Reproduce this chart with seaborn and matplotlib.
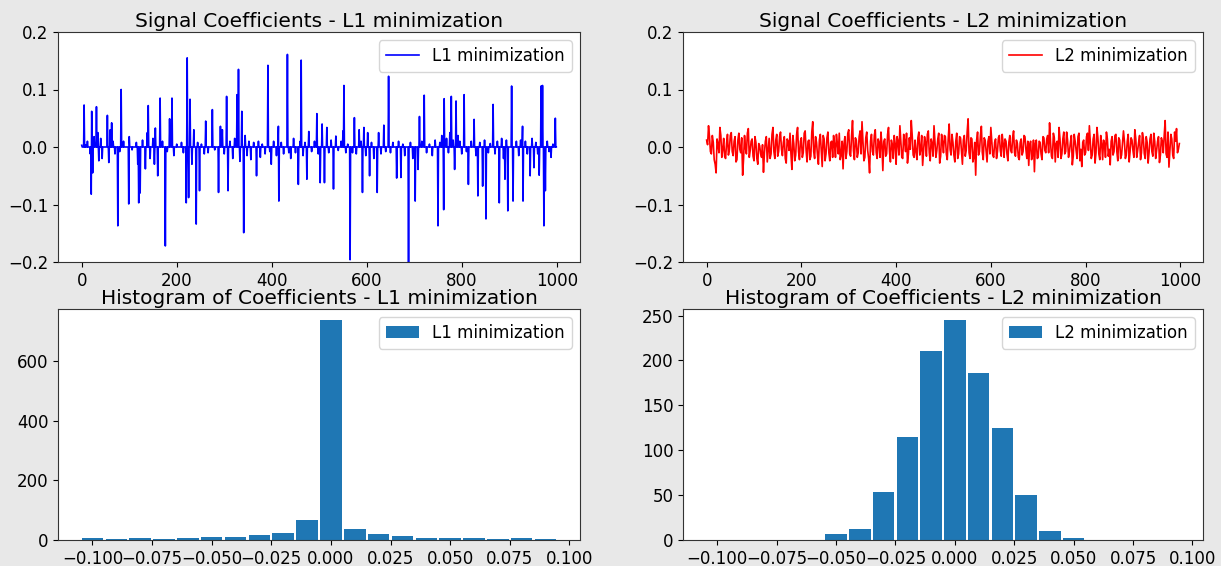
import numpy as np
import pandas as pd
import matplotlib
matplotlib.use("Agg")
import matplotlib.pyplot as plt
import seaborn as sns

# ---------------------------------------------------------------------------
# Data
# ---------------------------------------------------------------------------
n_coeffs = 1000

# Sparse L1 solution: indices of non-zero coefficients and their values
l1_idx = [0, 5, 8, 12, 18, 20, 21, 23, 26, 31, 34, 36, 40, 43, 54, 57, 60, 63, 66, 70,
          76, 80, 83, 88, 99, 100, 106, 115, 118, 120, 123, 128, 134, 138, 140, 144, 150,
          153, 155, 160, 165, 170, 176, 180, 185, 190, 194, 200, 210, 214, 220, 222, 225,
          228, 232, 236, 241, 244, 248, 252, 258, 261, 266, 275, 280, 288, 292, 296, 300,
          305, 308, 312, 318, 322, 327, 330, 333, 337, 341, 344, 348, 352, 356, 362, 368,
          372, 376, 380, 386, 392, 396, 399, 404, 410, 414, 415, 420, 425, 433, 436, 440,
          446, 450, 456, 460, 462, 466, 470, 474, 478, 484, 490, 495, 498, 502, 506, 511,
          516, 520, 525, 530, 535, 540, 546, 550, 552, 556, 560, 565, 570, 574, 578, 584,
          588, 591, 594, 598, 602, 606, 610, 615, 622, 625, 630, 636, 640, 646, 650, 655,
          663, 667, 672, 676, 680, 688, 692, 697, 702, 708, 711, 716, 721, 726, 732, 738,
          744, 750, 754, 758, 762, 763, 768, 772, 775, 778, 782, 785, 788, 792, 796, 800,
          805, 810, 814, 820, 826, 830, 834, 838, 844, 848, 851, 856, 860, 866, 870, 875,
          879, 884, 888, 891, 894, 897, 905, 908, 915, 920, 924, 928, 929, 934, 938, 944,
          948, 952, 956, 960, 963, 967, 970, 973, 976, 980, 984, 988, 992, 997]
l1_val = [0.003, 0.073, 0.004, 0.010, -0.012, -0.082, 0.062, -0.045, 0.018, 0.070, 0.025,
          -0.024, 0.015, -0.020, 0.055, -0.027, 0.030, 0.042, 0.010, -0.012, -0.137, -0.008,
          0.100, 0.010, -0.099, 0.018, -0.005, 0.008, -0.030, -0.097, -0.080, 0.012, -0.038,
          0.025, 0.072, -0.020, 0.015, -0.030, 0.033, -0.050, 0.085, 0.010, -0.172, -0.008,
          0.049, 0.085, -0.015, 0.005, 0.008, -0.010, -0.097, 0.155, -0.088, 0.083, -0.030,
          0.030, -0.134, 0.008, -0.076, 0.005, -0.012, 0.045, -0.010, 0.065, -0.005, -0.079,
          0.036, 0.030, -0.012, 0.088, -0.076, 0.010, -0.020, 0.015, 0.091, 0.135, -0.025,
          0.062, -0.149, 0.020, -0.015, 0.010, -0.022, 0.008, -0.050, 0.010, -0.018, 0.005,
          -0.012, 0.142, -0.008, -0.030, 0.010, -0.015, 0.036, -0.094, 0.008, -0.012, 0.161,
          -0.010, -0.020, 0.015, -0.010, -0.065, 0.010, 0.151, -0.015, 0.008, -0.056, 0.027,
          -0.008, 0.010, 0.058, -0.012, -0.062, 0.040, -0.062, 0.034, -0.010, 0.012, -0.073,
          0.019, -0.006, 0.010, 0.028, 0.107, -0.010, 0.005, -0.196, -0.010, 0.051, -0.012,
          0.030, 0.010, -0.079, 0.034, -0.015, 0.025, -0.050, 0.008, -0.020, -0.079, 0.025,
          -0.012, 0.038, -0.008, 0.123, -0.010, 0.008, -0.054, 0.010, -0.053, 0.005, -0.015,
          -0.215, 0.008, -0.020, -0.094, -0.039, 0.053, 0.010, 0.090, -0.010, 0.005, -0.015,
          0.012, -0.137, 0.008, 0.020, -0.109, 0.084, 0.015, -0.010, 0.025, 0.088, 0.012,
          -0.039, 0.080, 0.020, 0.010, -0.012, 0.091, -0.008, -0.065, 0.010, 0.048, -0.015,
          -0.085, 0.008, -0.068, 0.012, -0.125, -0.010, 0.006, 0.074, -0.012, 0.010, -0.097,
          0.015, -0.020, -0.056, 0.012, -0.111, 0.106, -0.094, 0.010, -0.015, 0.012, 0.036,
          -0.094, 0.010, -0.012, -0.050, 0.015, -0.036, 0.008, -0.012, -0.049, 0.106, 0.107,
          -0.137, -0.076, 0.010, -0.008, -0.018, 0.005, 0.050]

# Dense L2 solution, every other coefficient (values in units of 1e-3):
# even block holds indices 0, 4, 8, ...; odd block holds indices 2, 6, 10, ...
l2_idx_even = list(range(0, n_coeffs, 4))
l2_milli_even = [
    12, 37, -8, 20, -22, -45, 5, 34, -18, 15,
    -20, 22, -5, 25, -15, 18, -22, 24, -10, -49,
    20, -12, 32, -6, 14, -24, 8, -30, 2, -18,
    -44, 10, -26, 15, -12, 34, -20, 22, -8, 26,
    -15, 18, -28, 10, 24, -39, 6, -14, 34, -22,
    16, -10, 28, -26, 12, -16, 44, -20, 8, -30,
    22, -34, 14, -12, 26, -24, 10, 20, -18, 6,
    24, -14, -38, 18, -8, 30, -16, 46, -22, 12,
    -10, 28, 44, -24, 16, -6, -45, 22, -14, 30,
    -20, 8, 26, -41, 14, -12, 34, -26, 4, 20,
    -30, 10, 37, -18, 22, -8, -28, 16, 46, -14,
    12, -22, 26, -4, -32, 18, -16, 28, -24, 6,
    37, -18, 14, -28, 22, -10, 18, -22, 40, -14,
    8, -26, 24, -12, 16, -30, 20, -6, 49, -20,
    14, -18, -49, 26, -8, 36, -22, 12, -26, 18,
    34, -14, 8, -20, 16, -6, 22, -18, 10, -24,
    20, -10, 28, -16, 6, -22, 14, -8, 18, -20,
    -32, 10, -14, -43, 12, -18, 8, -22, 16, -10,
    20, 42, -16, 24, -26, 10, 34, -20, 14, -12,
    26, -18, 8, -31, 22, -6, 18, -24, -34, 12,
    -10, 24, 37, -20, 14, -28, 34, -12, 20, -22,
    6, 26, -16, -31, 18, -8, 22, -24, 12, -14,
    28, -20, 10, -26, 16, -6, 30, -18, 8, -22,
    25, -12, 18, -28, 14, -8, 24, -20, 10, -27,
    16, -10, 46, -18, -35, 22, -14, 26, 32, -4,
]
l2_idx_odd = list(range(2, n_coeffs, 4))
l2_milli_odd = [
    4, 18, -12, 8, -30, 14, -10, 20, -4, -16,
    6, -14, 20, -8, 10, -26, 12, -4, 16, -20,
    -2, 24, -18, 10, -16, 18, -20, 6, -12, 4,
    -10, 18, -6, -20, 22, -8, 12, -16, 18, -4,
    8, -20, 14, -6, -12, 20, -24, 22, -8, 10,
    -18, 24, -6, 10, -22, 26, -8, 18, -14, 12,
    -6, 20, -24, 16, -10, 8, -18, 4, 22, -12,
    -22, 10, 6, -20, 24, -12, 20, -6, 16, -18,
    18, -12, 8, -18, 26, -20, 10, -8, 20, -10,
    14, -18, 4, 10, -16, 22, -8, 12, -20, 6,
    18, -14, 8, -20, 10, 24, -12, -4, 20, -18,
    -8, 16, -14, 20, -6, 8, 22, -10, 14, -16,
    10, -6, 24, -16, 8, 20, -12, 14, -4, 22,
    -14, 10, -20, 18, -8, 12, -16, 26, -10, 16,
    -26, 8, 12, -14, 20, -10, 16, -6, 10, -12,
    10, -18, 14, -8, 20, -16, 6, 14, -12, 8,
    -6, 16, -10, 12, -18, 8, -14, 20, -4, 10,
    4, -22, 12, 6, -20, 10, -12, 18, -6, 14,
    -10, 8, -20, 16, 6, -18, 14, -12, 26, -8,
    12, -8, 20, -16, 10, -20, 24, -4, 8, -14,
    18, -6, 10, -14, 22, -10, 16, -22, 6, 12,
    -18, 14, -4, 10, -14, 20, -8, 16, -20, 6,
    10, -14, 22, -8, 12, -18, 14, -6, 20, -10,
    14, -20, 8, -10, 22, -16, 10, -6, 18, -14,
    10, 20, -12, 26, -8, 14, -20, 10, -10, 6,
]

# Histogram bins (centres, width 0.01) and counts per bin
bin_centers = [-0.10, -0.09, -0.08, -0.07, -0.06, -0.05, -0.04, -0.03, -0.02, -0.01,
               0.00, 0.01, 0.02, 0.03, 0.04, 0.05, 0.06, 0.07, 0.08, 0.09]
l1_counts = [8, 4, 8, 4, 7, 11, 11, 18, 24, 67, 739, 38, 20, 15, 8, 8, 7, 4, 8, 4]
l2_counts = [0, 0, 0, 0, 0, 7, 12, 53, 115, 210, 245, 186, 125, 50, 10, 2, 0, 0, 0, 0]

# ---------------------------------------------------------------------------
# Derived arrays
# ---------------------------------------------------------------------------
l1_signal = np.zeros(n_coeffs)
l1_signal[l1_idx] = l1_val

l2_df = pd.DataFrame({
    "index": l2_idx_even + l2_idx_odd,
    "coef": np.array(l2_milli_even + l2_milli_odd) * 1e-3,
}).sort_values("index")

bin_width = 0.01
centers = np.array(bin_centers)
bin_edges = list(np.append(centers - bin_width / 2, centers[-1] + bin_width / 2))

# ---------------------------------------------------------------------------
# Figure
# ---------------------------------------------------------------------------
plt.rcParams["font.family"] = ["DejaVu Sans"]
bg = "#e8e8e8"
fig = plt.figure(figsize=(12.21, 5.66), dpi=100, facecolor=bg)

W, H = 1221, 566


def rect(left, top, right, bottom):
    return [left / W, 1 - bottom / H, (right - left) / W, (bottom - top) / H]


ax_l1 = fig.add_axes(rect(58, 32, 580, 262))
ax_l2 = fig.add_axes(rect(683, 32, 1203, 262))
ax_h1 = fig.add_axes(rect(58, 309, 580, 540))
ax_h2 = fig.add_axes(rect(683, 309, 1203, 540))

title_fs = 14.5
title_pad = 3.5
tick_fs = 12
legend_fs = 12

# Coefficient traces
sns.lineplot(x=np.arange(n_coeffs), y=l1_signal, ax=ax_l1, color="b",
             linewidth=1.2, label="L1 minimization")
sns.lineplot(data=l2_df, x="index", y="coef", ax=ax_l2, color="r",
             linewidth=1.2, label="L2 minimization")

for ax, name in [(ax_l1, "L1"), (ax_l2, "L2")]:
    ax.set_ylim(-0.2, 0.2)
    ax.set_yticks([-0.2, -0.1, 0.0, 0.1, 0.2])
    ax.set_xticks([0, 200, 400, 600, 800, 1000])
    ax.set_title(f"Signal Coefficients - {name} minimization",
                 fontsize=title_fs, pad=title_pad)

# Histograms of coefficient values
for ax, counts, name in [(ax_h1, l1_counts, "L1"), (ax_h2, l2_counts, "L2")]:
    hist_df = pd.DataFrame({"coef": centers, "count": np.array(counts, dtype=float)})
    sns.histplot(data=hist_df, x="coef", weights="count", bins=bin_edges, shrink=0.9,
                 color="#1f77b4", alpha=1.0, linewidth=0, ax=ax,
                 label=f"{name} minimization")
    ax.set_title(f"Histogram of Coefficients - {name} minimization",
                 fontsize=title_fs, pad=title_pad)
    ax.set_xticks([-0.100, -0.075, -0.050, -0.025, 0.0, 0.025, 0.050, 0.075, 0.100])
    ax.set_xticklabels(["\u22120.100", "\u22120.075", "\u22120.050", "\u22120.025",
                        "0.000", "0.025", "0.050", "0.075", "0.100"])

ax_h1.set_yticks([0, 200, 400, 600])
ax_h2.set_yticks([0, 50, 100, 150, 200, 250])

for ax in (ax_l1, ax_l2, ax_h1, ax_h2):
    ax.set_facecolor("white")
    ax.set_xlabel("")
    ax.set_ylabel("")
    ax.tick_params(labelsize=tick_fs)
    ax.legend(loc="upper right", fontsize=legend_fs)
    for s in ax.spines.values():
        s.set_color("#333333")
        s.set_linewidth(0.8)

fig.savefig("out.png", dpi=100, facecolor=bg)
